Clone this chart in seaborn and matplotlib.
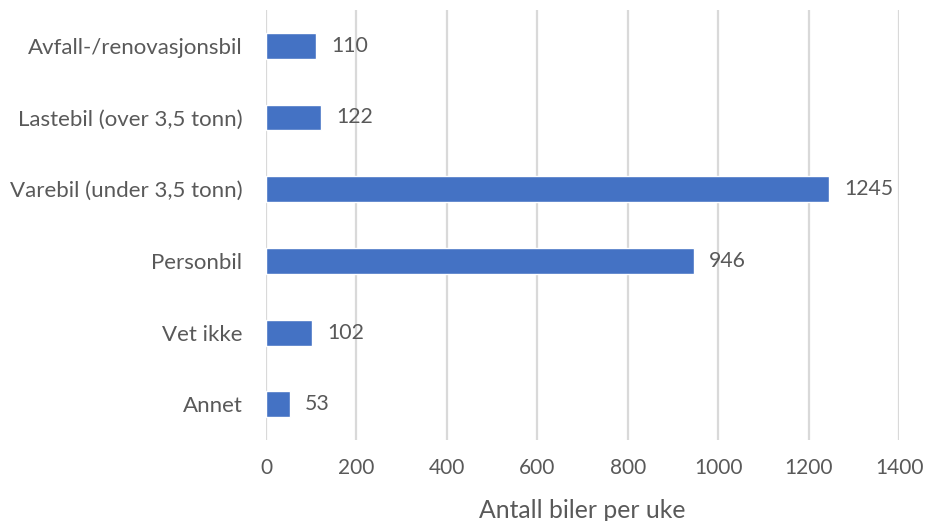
import matplotlib
matplotlib.use("Agg")
import matplotlib.pyplot as plt
import seaborn as sns
import pandas as pd

categories = [
    "Avfall-/renovasjonsbil",
    "Lastebil (over 3,5 tonn)",
    "Varebil (under 3,5 tonn)",
    "Personbil",
    "Vet ikke",
    "Annet",
]
values = [110, 122, 1245, 946, 102, 53]
x_ticks = [0, 200, 400, 600, 800, 1000, 1200, 1400]

sns.set_theme(style="white")
plt.rcParams["font.family"] = ["Lato", "DejaVu Sans"]

text_color = "#595959"
df = pd.DataFrame({"kategori": categories, "antall": values})

fig = plt.figure(figsize=(9.25, 5.21), dpi=100)
ax = fig.add_axes([0.2876, 0.155, 0.972 - 0.2876, 0.981 - 0.155])

sns.barplot(data=df, x="antall", y="kategori", orient="h", color="#4472C4",
            saturation=1, width=0.36, ax=ax, zorder=3)

for c in ax.containers:
    ax.bar_label(c, labels=[str(v) for v in values], padding=11,
                 fontsize=15.3, color=text_color)

ax.set_xlim(0, 1400)
ax.set_ylim(5.5, -0.5)
ax.set_xticks(x_ticks)
ax.set_xticklabels([str(t) for t in x_ticks])
ax.xaxis.grid(True, color="#d9d9d9", linewidth=1.6, zorder=0)
ax.yaxis.grid(False)
for s in ax.spines.values():
    s.set_visible(False)
ax.tick_params(axis="x", length=0, pad=13, labelsize=15, labelcolor=text_color)
ax.tick_params(axis="y", length=0, pad=17, labelsize=16, labelcolor=text_color)
ax.set_ylabel("")
ax.set_xlabel("Antall biler per uke", fontsize=17.8, color=text_color, labelpad=15)

fig.savefig("out.png", dpi=100)
